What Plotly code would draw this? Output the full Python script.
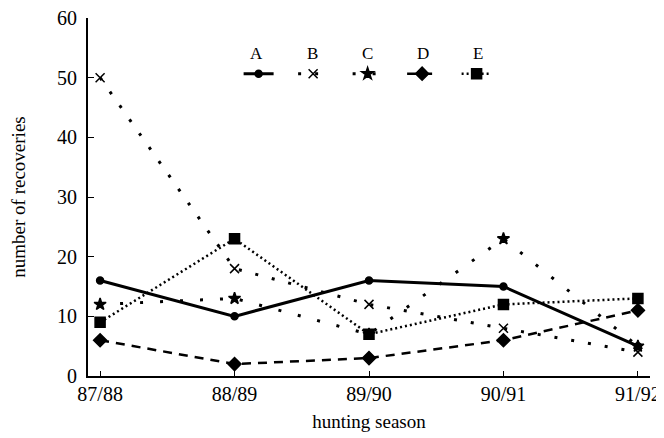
import plotly.graph_objects as go

seasons = ["87/88", "88/89", "89/90", "90/91", "91/92"]
series_names = ["A", "B", "C", "D", "E"]
values_A = [16, 10, 16, 15, 5]
values_B = [50, 18, 12, 8, 4]
values_C = [12, 13, 7, 23, 5]
values_D = [6, 2, 3, 6, 11]
values_E = [9, 23, 7, 12, 13]
y_ticks = [0, 10, 20, 30, 40, 50, 60]

series_values = [values_A, values_B, values_C, values_D, values_E]
styles = [
    dict(dash="solid", width=3, symbol="circle", size=7),
    dict(dash="3px,14px", width=3, symbol="x-thin", size=9),
    dict(dash="3px,17px", width=3, symbol="star", size=9),
    dict(dash="9px,7px", width=2.5, symbol="diamond", size=10),
    dict(dash="2px,3px", width=2.5, symbol="square", size=10),
]

fig = go.Figure()
for name, vals, st in zip(series_names, series_values, styles):
    fig.add_trace(go.Scatter(
        x=seasons, y=vals, mode="lines+markers", name=" ",
        line=dict(color="black", width=st["width"], dash=st["dash"]),
        marker=dict(symbol=st["symbol"], size=st["size"], color="black",
                    line=dict(color="black", width=1.5)),
    ))

FONT = "Liberation Serif"
fig.update_layout(
    width=656, height=430,
    margin=dict(l=80, r=14, t=10, b=62, autoexpand=False),
    paper_bgcolor="white", plot_bgcolor="white",
    font=dict(family=FONT, color="black", size=20),
    showlegend=True,
    legend=dict(orientation="h", x=0.268, y=0.8445, xanchor="left", yanchor="middle",
                entrywidth=9.5, entrywidthmode="pixels", bgcolor="rgba(0,0,0,0)",
                font=dict(size=2), itemclick=False),
    xaxis=dict(type="category", range=[-0.09, 4.09], showline=True, linecolor="black",
               linewidth=2, ticks="inside", ticklen=5, tickcolor="black", showgrid=False,
               zeroline=False, tickfont=dict(size=20), ticklabelstandoff=-1, automargin=False,
               ticklabeloverflow="allow",
               title=dict(text="hunting season", font=dict(size=19), standoff=11)),
    yaxis=dict(range=[0, 60], tickvals=y_ticks, showline=True, linecolor="black",
               linewidth=2, ticks="inside", ticklen=6, tickcolor="black", showgrid=False,
               zeroline=False, tickfont=dict(size=20), ticklabelstandoff=5, automargin=False,
               ticklabeloverflow="allow",
               title=dict(text="number of recoveries", font=dict(size=19), standoff=26)),
)

for i, n in enumerate(series_names):
    fig.add_annotation(text=n, xref="paper", yref="paper", x=0.3007 + i * 0.0983, y=0.902,
                       xanchor="center", yanchor="middle",
                       showarrow=False, font=dict(size=17, family=FONT))

fig.write_html("out.html")
